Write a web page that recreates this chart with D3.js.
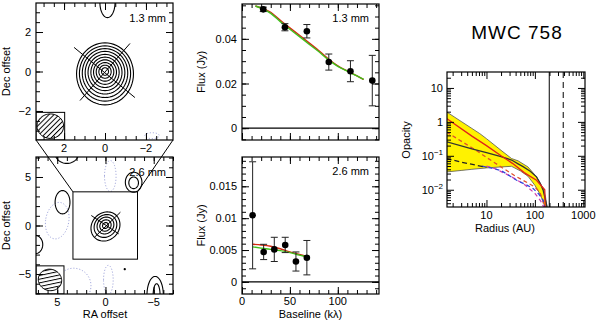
<!DOCTYPE html>
<html>
<head>
<meta charset="utf-8">
<script src="https://cdn.jsdelivr.net/npm/d3@7"></script>
<style>
body { margin: 0; background: #fff; }
svg { font-family: "Liberation Sans", Arial, sans-serif; }
</style>
</head>
<body>
<svg id="chart" width="600" height="320"></svg>
<script>
// ---------- data ----------
// contour maps: [cx, cy, rx, ry, angle] in arcsec offsets
const mapTicks13 = [2, 0, -2];
const mapTicks26 = [5, 0, -5];
const contours13 = [
    [0, -0.12, 1.39, 1.57, 0], [0, -0.1, 1.25, 1.40, 0], [0, -0.08, 1.11, 1.24, 0],
    [0, -0.06, 0.97, 1.08, 0], [0, -0.05, 0.83, 0.92, 0], [0, -0.04, 0.69, 0.77, 0],
    [0, -0.03, 0.56, 0.62, 0], [0, -0.02, 0.43, 0.47, 0], [0, -0.01, 0.30, 0.33, 0],
    [0, 0, 0.17, 0.19, 0], [-0.12, 3.5, 0.37, 0.77, 0]
];
const negContours13 = [[-2.3, -3.25, 0.35, 0.15, 0]];
const contours26 = [
    [0, -0.1, 1.6, 1.4, -45], [0, -0.05, 1.25, 1.1, -45], [0, 0, 0.92, 0.82, -45],
    [0, 0, 0.62, 0.55, -45], [0, 0, 0.32, 0.28, -45],
    [-2.92, 4.46, 0.86, 1.03, 0], [-2.92, 4.4, 0.5, 0.6, 0],
    [4.45, 2.4, 0.77, 1.2, 0], [7.3, -1.96, 0.8, 0.95, 0], [4.0, 7.4, 1.2, 1.0, 0],
    [-5.15, -7.2, 0.85, 1.95, 0], [-5.3, -7.2, 0.36, 1.2, 0], [-2.0, -4.5, 0.06, 0.06, 0]
];
const negContours26 = [[5.0, 0.5, 1.2, 1.9, 10], [-0.5, 5.1, 0.6, 1.6, 0], [3.3, -6.2, 1.8, 1.8, 0], [-0.3, -5.6, 0.5, 1.5, 0]];
const diskAxes13 = [[[1.51, 1.22], [-1.46, -1.32]], [[1.22, -1.47], [-1.22, 1.42]]];
const diskAxes26 = [[[1.13, -1.2], [-1.55, 1.37]], [[1.47, 1.03], [-1.37, -0.86]]];
const beam13 = [0.65, 0.62, 0];      // half major, half minor, angle
const beam26 = [1.22, 1.1, 15];
const beamBox13 = 1.4;
const beamBox26 = 2.9;

// visibilities
const base13 = [22.2, 44.8, 67.7, 90.6, 113.2, 136];
const flux13 = [0.0532, 0.0452, 0.0434, 0.0296, 0.0255, 0.0213];
const err13 = [0.001, 0.0016, 0.003, 0.0036, 0.0047, 0.0113];
const modelBase13 = [14, 22, 30, 40, 50, 60, 70, 80, 90, 100, 110, 120, 127];
const modelGreen13 = [0.0547, 0.0533, 0.0514, 0.0477, 0.0443, 0.0410, 0.0376, 0.0343, 0.0307, 0.0277, 0.0255, 0.0234, 0.0218];
const modelRed13 = [0.0547, 0.0535, 0.0519, 0.0483, 0.0449, 0.0416, 0.0382, 0.0348, 0.0311, 0.0279, 0.0256, 0.0234, 0.0218];

const base26 = [11.1, 22.6, 33.7, 45.1, 56.3, 67.7];
const flux26 = [0.01045, 0.0047, 0.0051, 0.0058, 0.0032, 0.0038];
const err26 = [0.0084, 0.0012, 0.0019, 0.0012, 0.0015, 0.0027];
const modelBase26 = [11, 20, 30, 40, 50, 60, 68];
const modelGreen26 = [0.0055, 0.0053, 0.0051, 0.0049, 0.0046, 0.0042, 0.0039];
const modelRed26 = [0.0059, 0.0058, 0.0056, 0.0052, 0.0047, 0.0043, 0.0040];

// opacity profiles (radius in AU)
const bandUpperR = [1.5, 3, 5, 7.3, 10, 20, 33, 45, 72, 108, 148, 165, 178];
const bandUpper = [1.97, 1.03, 0.64, 0.45, 0.32, 0.145, 0.083, 0.071, 0.047, 0.024, 0.011, 0.0065, 0.0031];
const bandLowerR = [1.5, 3, 5, 10, 20, 33, 50, 72, 100, 126, 148, 161];
const bandLower = [0.0335, 0.037, 0.040, 0.044, 0.047, 0.049, 0.036, 0.025, 0.0135, 0.0077, 0.0045, 0.0031];
const redR = [1.5, 5, 10, 20, 35, 60, 108, 160, 163];
const redTau = [1.26, 0.38, 0.2, 0.1, 0.059, 0.032, 0.019, 0.010, 0.0031];
const blackR = [1.5, 5, 10, 20, 33, 45, 57, 80, 108, 130, 148, 165, 178];
const blackTau = [0.26, 0.16, 0.125, 0.095, 0.075, 0.058, 0.048, 0.035, 0.024, 0.015, 0.0097, 0.005, 0.0031];
const blackDashR = [1.5, 3, 6, 10];
const blackDashTau = [0.083, 0.065, 0.053, 0.046];
const blueDashR = [8, 10, 20, 42, 70, 92, 120, 148, 160];
const blueDashTau = [0.05, 0.047, 0.037, 0.019, 0.0135, 0.0108, 0.0075, 0.0049, 0.0031];
const magentaDashR = [10, 15, 30, 60, 100, 130, 152];
const magentaDashTau = [0.05, 0.042, 0.026, 0.0145, 0.0078, 0.0048, 0.0031];
const redDashR = [1.5, 3, 6, 10, 20, 40, 57, 100, 126, 145, 155];
const redDashTau = [0.5, 0.27, 0.147, 0.09, 0.047, 0.025, 0.019, 0.012, 0.0085, 0.005, 0.0031];
const outerRadii = [198, 385];

// ---------- drawing ----------
const svg = d3.select("#chart");
const defs = svg.append("defs");
const fs = 11;

function zip(a, b) { return a.map((v, i) => [v, b[i]]); }

function clipFor(id, x0, y0, x1, y1) {
    defs.append("clipPath").attr("id", id).append("rect")
        .attr("x", x0).attr("y", y0).attr("width", x1 - x0).attr("height", y1 - y0);
    return "url(#" + id + ")";
}

function hatch(id, angle) {
    let p = defs.append("pattern").attr("id", id)
        .attr("patternUnits", "userSpaceOnUse")
        .attr("width", 8).attr("height", 3.6)
        .attr("patternTransform", "rotate(" + angle + ")");
    p.append("line").attr("x1", 0).attr("x2", 8).attr("y1", 0.5).attr("y2", 0.5)
        .attr("stroke", "#000").attr("stroke-width", 1);
}

function ellipsePts(c) {
    const [cx, cy, rx, ry, rot] = c;
    const a = rot * Math.PI / 180;
    return d3.range(60).map(i => {
        const t = 2 * Math.PI * i / 60;
        const ex = rx * Math.cos(t), ey = ry * Math.sin(t);
        return [cx + ex * Math.cos(a) - ey * Math.sin(a), cy + ex * Math.sin(a) + ey * Math.cos(a)];
    });
}

// ticks on all four sides, pointing inwards
function frame(g, x, y, xMinor, xMajor, yMinor, yMajor) {
    const [x0, x1] = x.range(), [y1, y0] = y.range();
    const xl = Math.min(x0, x1), xr = Math.max(x0, x1);
    const strip = s => s.select(".domain").remove();
    [[xMinor, 4], [xMajor, 7]].forEach(([vals, len]) => {
        g.append("g").attr("transform", "translate(0," + y1 + ")")
            .call(d3.axisBottom(x).tickValues(vals).tickSize(-len).tickFormat("")).call(strip);
        g.append("g").attr("transform", "translate(0," + y0 + ")")
            .call(d3.axisTop(x).tickValues(vals).tickSize(-len).tickFormat("")).call(strip);
    });
    [[yMinor, 4], [yMajor, 7]].forEach(([vals, len]) => {
        g.append("g").attr("transform", "translate(" + xl + ",0)")
            .call(d3.axisLeft(y).tickValues(vals).tickSize(-len).tickFormat("")).call(strip);
        g.append("g").attr("transform", "translate(" + xr + ",0)")
            .call(d3.axisRight(y).tickValues(vals).tickSize(-len).tickFormat("")).call(strip);
    });
    g.selectAll(".tick line").attr("stroke", "#000").attr("stroke-width", 1);
    g.append("rect").attr("x", xl).attr("y", y0).attr("width", xr - xl).attr("height", y1 - y0)
        .attr("fill", "none").attr("stroke", "#000").attr("stroke-width", 1.2);
}

function vlabel(x, y, txt) {
    svg.append("text").attr("transform", "translate(" + x + "," + y + ") rotate(-90)")
        .attr("text-anchor", "middle").attr("font-size", fs).text(txt);
}

function fmtMinus(v) { return v < 0 ? "\u2212" + Math.abs(v) : String(v); }

// ---- contour maps ----
function mapPanel(id, x, y, contours, neg, axes, beam, box, hatchAngle, ticks, step, label) {
    const g = svg.append("g");
    const inner = g.append("g").attr("clip-path", clipFor(id, x.range()[0], y.range()[1], x.range()[1], y.range()[0]));
    const line = d3.line().x(d => x(d[0])).y(d => y(d[1])).curve(d3.curveLinearClosed);
    inner.selectAll(".neg").data(neg).join("path")
        .attr("d", c => line(ellipsePts(c)))
        .attr("fill", "none").attr("stroke", "#9a9fd8").attr("stroke-width", 0.9)
        .attr("stroke-dasharray", "1.2,1.8");
    inner.selectAll(".pos").data(contours).join("path")
        .attr("d", c => line(ellipsePts(c)))
        .attr("fill", "none").attr("stroke", "#000").attr("stroke-width", 1.1);
    inner.selectAll(".axis").data(axes).join("line")
        .attr("x1", d => x(d[0][0])).attr("y1", d => y(d[0][1]))
        .attr("x2", d => x(d[1][0])).attr("y2", d => y(d[1][1]))
        .attr("stroke", "#000").attr("stroke-width", 1);
    // beam in the lower-left corner
    const xd = x.domain()[0], yd = y.domain()[0];
    hatch(id + "h", hatchAngle);
    inner.append("rect").attr("x", x(xd)).attr("y", y(yd + box))
        .attr("width", x(xd - box) - x(xd)).attr("height", y(yd) - y(yd + box))
        .attr("fill", "#fff").attr("stroke", "#000").attr("stroke-width", 1);
    inner.append("path").attr("d", line(ellipsePts([xd - box / 2, yd + box / 2, beam[0], beam[1], beam[2]])))
        .attr("fill", "url(#" + id + "h)").attr("stroke", "#000").attr("stroke-width", 1);
    const lo = x.domain()[1], hi = x.domain()[0];
    const minor = d3.range(Math.ceil(lo / step) * step, hi, step);
    const yminor = d3.range(Math.ceil(y.domain()[0] / step) * step, y.domain()[1], step);
    frame(g, x, y, minor, ticks, yminor, ticks);
    ticks.forEach(t => {
        svg.append("text").attr("x", x.range()[0] - 5).attr("y", y(t) + 4)
            .attr("text-anchor", "end").attr("font-size", fs).text(fmtMinus(t));
        svg.append("text").attr("x", x(t)).attr("y", y.range()[0] + 12)
            .attr("text-anchor", "middle").attr("font-size", fs).text(fmtMinus(t));
    });
    svg.append("text").attr("x", x.range()[1] - 7).attr("y", y.range()[1] + 19)
        .attr("text-anchor", "end").attr("font-size", fs).text(label);
    vlabel(10, (y.range()[0] + y.range()[1]) / 2, "Dec offset");
}

const xM1 = d3.scaleLinear().domain([3.37, -3.32]).range([36, 173]);
const yM1 = d3.scaleLinear().domain([-3.47, 3.47]).range([140, 3]);
const xM2 = d3.scaleLinear().domain([7.2, -7.0]).range([36, 173]);
const yM2 = d3.scaleLinear().domain([-7.06, 7.06]).range([294, 157]);

const zb = [xM1.domain()[0], xM1.domain()[1], yM1.domain()[0], yM1.domain()[1]];

mapPanel("m1", xM1, yM1, contours13, negContours13, diskAxes13, beam13, beamBox13, -45, mapTicks13, 0.5, "1.3 mm");
mapPanel("m2", xM2, yM2, contours26, negContours26, diskAxes26, beam26, beamBox26, -12, mapTicks26, 1, "2.6 mm");
// zoom box and connectors
svg.append("rect").attr("x", xM2(zb[0])).attr("y", yM2(zb[3]))
    .attr("width", xM2(zb[1]) - xM2(zb[0])).attr("height", yM2(zb[2]) - yM2(zb[3]))
    .attr("fill", "none").attr("stroke", "#000").attr("stroke-width", 1);
[zb[0], zb[1]].forEach(xv => {
    svg.append("line").attr("x1", xM1(xv)).attr("y1", yM1(zb[2]))
        .attr("x2", xM2(xv)).attr("y2", yM2(zb[3]))
        .attr("stroke", "#000").attr("stroke-width", 1);
});
svg.append("text").attr("x", 105).attr("y", 318).attr("text-anchor", "middle").attr("font-size", fs).text("RA offset");

// ---- visibility panels ----
function visPanel(id, x, y, base, flux, err, mB, mG, mR, yMinor, yMajor, yLabels, label, showX) {
    const g = svg.append("g");
    const inner = g.append("g").attr("clip-path", clipFor(id, x.range()[0], y.range()[1], x.range()[1], y.range()[0]));
    inner.append("line").attr("x1", x.range()[0]).attr("x2", x.range()[1])
        .attr("y1", y(0)).attr("y2", y(0)).attr("stroke", "#000").attr("stroke-width", 1.2);
    const line = d3.line().x(d => x(d[0])).y(d => y(d[1])).curve(d3.curveMonotoneX);
    inner.append("path").attr("d", line(zip(mB, mR))).attr("fill", "none")
        .attr("stroke", "#d42a10").attr("stroke-width", 1.4);
    inner.append("path").attr("d", line(zip(mB, mG))).attr("fill", "none")
        .attr("stroke", "#3fbf1a").attr("stroke-width", 1.4);
    const pts = base.map((b, i) => ({b: b, f: flux[i], e: err[i]}));
    const eb = inner.selectAll(".eb").data(pts).join("g").attr("stroke", "#222").attr("stroke-width", 1);
    eb.append("line").attr("x1", d => x(d.b)).attr("x2", d => x(d.b))
        .attr("y1", d => y(d.f - d.e)).attr("y2", d => y(d.f + d.e));
    [-1, 1].forEach(s => {
        eb.append("line").attr("x1", d => x(d.b) - 3.5).attr("x2", d => x(d.b) + 3.5)
            .attr("y1", d => y(d.f + s * d.e)).attr("y2", d => y(d.f + s * d.e));
    });
    inner.selectAll(".pt").data(pts).join("circle")
        .attr("cx", d => x(d.b)).attr("cy", d => y(d.f)).attr("r", 3.3).attr("fill", "#000");
    frame(g, x, y, d3.range(0, 145, 10), [0, 50, 100], yMinor, yMajor);
    yLabels.forEach(([v, t]) => {
        svg.append("text").attr("x", x.range()[0] - 5).attr("y", y(v) + 4)
            .attr("text-anchor", "end").attr("font-size", fs).text(t);
    });
    svg.append("text").attr("x", x.range()[1] - 10).attr("y", y.range()[1] + 18)
        .attr("text-anchor", "end").attr("font-size", fs).text(label);
    vlabel(205, (y.range()[0] + y.range()[1]) / 2, "Flux (Jy)");
    if (showX) {
        [0, 50, 100].forEach(v => {
            svg.append("text").attr("x", x(v)).attr("y", y.range()[0] + 11)
                .attr("text-anchor", "middle").attr("font-size", fs).text(v);
        });
        svg.append("text").attr("x", (x.range()[0] + x.range()[1]) / 2).attr("y", 318)
            .attr("text-anchor", "middle").attr("font-size", fs).text("Baseline (k\u03bb)");
    }
}

const xV = d3.scaleLinear().domain([0, 143]).range([242, 379]);
const yV1 = d3.scaleLinear().domain([-0.0053, 0.0556]).range([140, 4]);
const yV2 = d3.scaleLinear().domain([-0.0019, 0.0196]).range([294, 157]);
visPanel("v1", xV, yV1, base13, flux13, err13, modelBase13, modelGreen13, modelRed13,
    d3.range(-0.005, 0.0556, 0.005), [0, 0.02, 0.04], [[0.04, "0.04"], [0.02, "0.02"], [0, "0"]], "1.3 mm", false);
visPanel("v2", xV, yV2, base26, flux26, err26, modelBase26, modelGreen26, modelRed26,
    d3.range(-0.001, 0.0196, 0.001), [0, 0.005, 0.01, 0.015],
    [[0.015, "0.015"], [0.01, "0.01"], [0.005, "0.005"], [0, "0"]], "2.6 mm", true);

// ---- opacity panel ----
const xR = d3.scaleLog().domain([1.53, 1084]).range([447, 585]);
const yR = d3.scaleLog().domain([0.0031, 29.5]).range([207, 72]);
const gR = svg.append("g");
const innerR = gR.append("g").attr("clip-path", clipFor("op", 447, 72, 585, 207));
const lineR = d3.line().x(d => xR(d[0])).y(d => yR(d[1]));
const band = zip(bandUpperR, bandUpper).concat(zip(bandLowerR, bandLower).reverse());
innerR.append("path").attr("d", lineR(band) + "Z").attr("fill", "#fff200")
    .attr("stroke", "#555").attr("stroke-width", 0.8);
const profiles = [
    [redDashR, redDashTau, "#e0502a", "4,3"],
    [magentaDashR, magentaDashTau, "#d040b0", "4,3"],
    [blueDashR, blueDashTau, "#3344dd", "4,3"],
    [blackDashR, blackDashTau, "#222", "5,3"],
    [blackR, blackTau, "#333", null],
    [redR, redTau, "#e0231a", null]
];
profiles.forEach(([r, t, c, dash]) => {
    innerR.append("path").attr("d", lineR(zip(r, t))).attr("fill", "none")
        .attr("stroke", c).attr("stroke-width", 1.3).attr("stroke-dasharray", dash);
});
outerRadii.forEach((r, i) => {
    innerR.append("line").attr("x1", xR(r)).attr("x2", xR(r)).attr("y1", 72).attr("y2", 207)
        .attr("stroke", "#000").attr("stroke-width", 1).attr("stroke-dasharray", i ? "6,4" : null);
});
const isDecade = v => Math.abs(Math.log10(v) - Math.round(Math.log10(v))) < 1e-9;
const xLogTicks = xR.ticks(), yLogTicks = yR.ticks();
frame(gR, xR, yR, xLogTicks.filter(v => !isDecade(v)), xLogTicks.filter(isDecade),
    yLogTicks.filter(v => !isDecade(v)), yLogTicks.filter(isDecade));
[10, 100, 1000].forEach(v => {
    svg.append("text").attr("x", xR(v)).attr("y", 219).attr("text-anchor", "middle")
        .attr("font-size", fs).text(v);
});
[[10, null], [1, null], [0.1, "\u22121"], [0.01, "\u22122"]].forEach(([v, ex]) => {
    const t = svg.append("text").attr("x", 443).attr("y", yR(v) + 4)
        .attr("text-anchor", "end").attr("font-size", fs);
    if (ex) {
        t.append("tspan").text("10");
        t.append("tspan").attr("dy", -5).attr("font-size", 8).text(ex);
    } else {
        t.text(v);
    }
});
svg.append("text").attr("x", 505).attr("y", 232).attr("text-anchor", "middle").attr("font-size", fs).text("Radius (AU)");
vlabel(410, 140, "Opacity");
svg.append("text").attr("x", 517).attr("y", 39).attr("text-anchor", "middle")
    .attr("font-size", 19).attr("letter-spacing", 1).text("MWC 758");
</script>
</body>
</html>
